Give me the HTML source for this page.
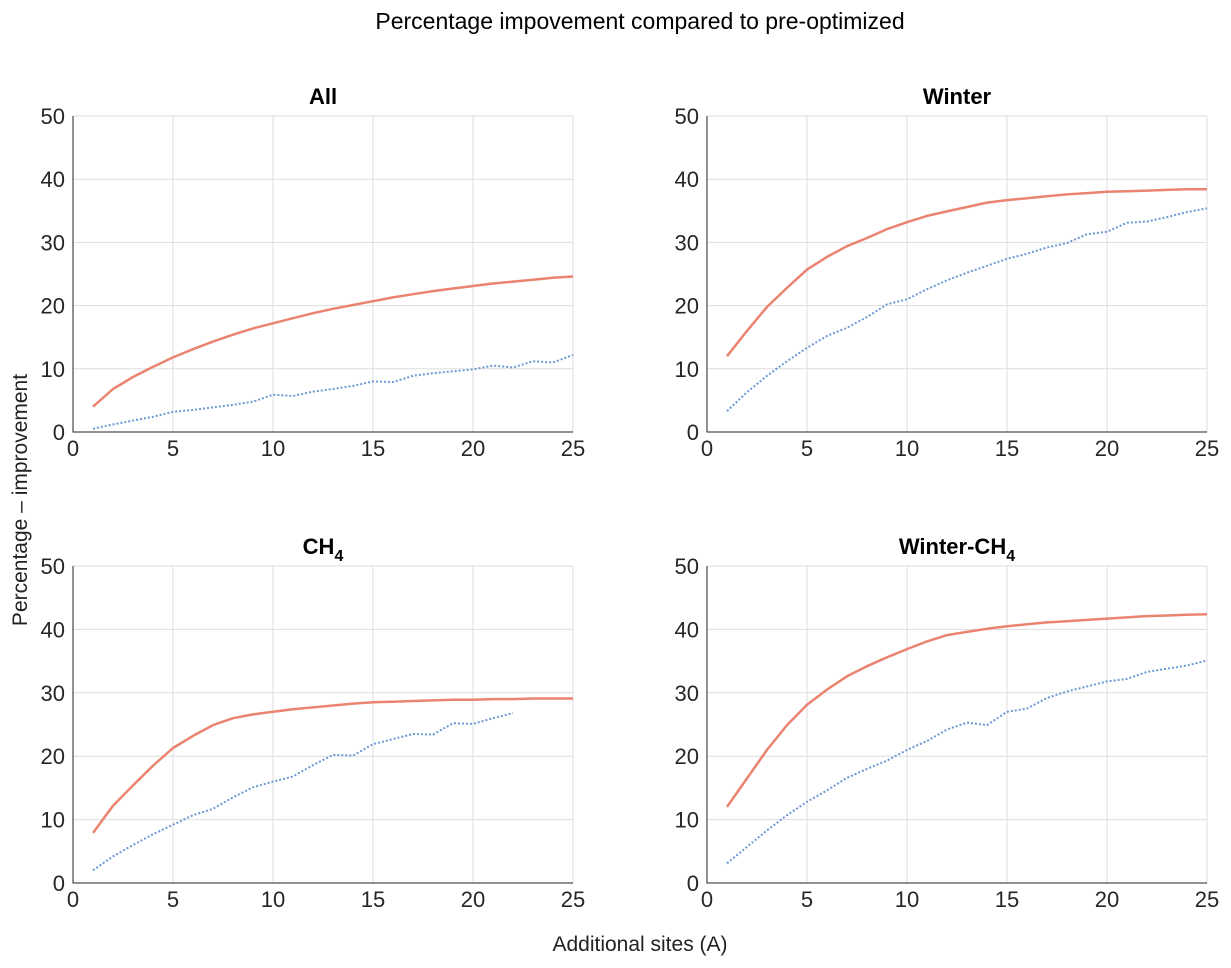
<!DOCTYPE html>
<html><head><meta charset="utf-8">
<style>
html,body{margin:0;padding:0;background:#fff;}
svg{display:block;font-family:"Liberation Sans",Arial,sans-serif;}
</style></head>
<body>
<svg id="chart" width="1231" height="968" viewBox="0 0 1231 968">
<text x="640" y="29" text-anchor="middle" font-size="23" fill="#000">Percentage impovement compared to pre-optimized</text>
<text x="640" y="951" text-anchor="middle" font-size="21" fill="#222">Additional sites (A)</text>
<text transform="translate(27,500) rotate(-90)" text-anchor="middle" font-size="21" fill="#222">Percentage – improvement</text>
</svg>
<script>
const xTicks=[0,5,10,15,20,25];
const yTicks=[0,10,20,30,40,50];
const panelTitles=["All","Winter","CH4","Winter-CH4"];
const allRed=[4,6.8,8.7,10.3,11.8,13.1,14.3,15.4,16.4,17.2,18.0,18.8,19.5,20.1,20.7,21.3,21.8,22.3,22.7,23.1,23.5,23.8,24.1,24.4,24.6];
const allBlue=[0.5,1.2,1.8,2.4,3.2,3.5,3.9,4.3,4.8,5.9,5.7,6.4,6.8,7.3,8,7.9,8.9,9.3,9.6,9.9,10.5,10.2,11.2,11,12.2];
const winterRed=[12,16,19.8,22.8,25.7,27.7,29.4,30.7,32.1,33.2,34.2,34.9,35.6,36.3,36.7,37,37.3,37.6,37.8,38,38.1,38.2,38.3,38.4,38.4];
const winterBlue=[3.3,6.3,8.9,11.2,13.3,15.2,16.5,18.2,20.2,21,22.6,24,25.2,26.3,27.4,28.2,29.2,29.9,31.3,31.7,33.1,33.3,34,34.8,35.4];
const ch4Red=[7.9,12.2,15.4,18.5,21.3,23.2,24.9,26,26.6,27,27.4,27.7,28,28.3,28.5,28.6,28.7,28.8,28.9,28.9,29,29,29.1,29.1,29.1];
const ch4Blue=[2,4.2,6,7.7,9.2,10.7,11.7,13.5,15.1,16,16.8,18.6,20.2,20.1,21.9,22.7,23.5,23.4,25.2,25.1,26,26.8];
const wch4Red=[12,16.5,21,24.9,28.1,30.5,32.6,34.2,35.6,36.9,38.1,39.1,39.6,40.1,40.5,40.8,41.1,41.3,41.5,41.7,41.9,42.1,42.2,42.3,42.4];
const wch4Blue=[3.1,5.7,8.3,10.7,12.8,14.6,16.6,18,19.3,21,22.4,24.2,25.3,24.9,27,27.5,29.2,30.2,31,31.8,32.2,33.3,33.8,34.3,35.1];

const NS="http://www.w3.org/2000/svg";
const svg=document.getElementById('chart');
function mk(tag,attrs,parent){const e=document.createElementNS(NS,tag);for(const k in attrs)e.setAttribute(k,attrs[k]);(parent||svg).appendChild(e);return e;}
const panels=[
 {x0:73,x1:573,y0:432,y1:116,red:allRed,blue:allBlue,name:"all"},
 {x0:707,x1:1207,y0:432,y1:116,red:winterRed,blue:winterBlue,name:"winter"},
 {x0:73,x1:573,y0:883,y1:566,red:ch4Red,blue:ch4Blue,name:"ch4"},
 {x0:707,x1:1207,y0:883,y1:566,red:wch4Red,blue:wch4Blue,name:"winter-ch4"}];
panels.forEach((p,i)=>{
 const g=mk('g',{});
 
 
 const sx=v=>p.x0+(v-0)/25*(p.x1-p.x0);
 const sy=v=>p.y0+(v-0)/50*(p.y1-p.y0);
 xTicks.forEach(t=>{
  const l=mk('line',{x1:sx(t),x2:sx(t),y1:p.y0,y2:p.y1,stroke:'#dedede','stroke-width':1},g);
  
  
  const tx=mk('text',{x:sx(t),y:p.y0+24,'text-anchor':'middle','font-size':22,fill:'#262626'},g);
  tx.textContent=t;
  
  
 });
 yTicks.forEach(t=>{
  const l=mk('line',{x1:p.x0,x2:p.x1,y1:sy(t),y2:sy(t),stroke:'#dedede','stroke-width':1},g);
  
  
  const tx=mk('text',{x:p.x0-8,y:sy(t)+8,'text-anchor':'end','font-size':22,fill:'#262626'},g);
  tx.textContent=t;
  
  
 });
 const ax=mk('path',{d:`M${p.x0},${p.y1}V${p.y0}H${p.x1}`,fill:'none',stroke:'#262626','stroke-width':1},g);
 
 
 const pts=arr=>arr.map((v,k)=>sx(k+1).toFixed(1)+','+sy(v).toFixed(1)).join(' ');
 const r=mk('polyline',{points:pts(p.red),fill:'none',stroke:'#ea8470','stroke-width':2.5,'stroke-linejoin':'round'},g);
 
 
 const b=mk('polyline',{points:pts(p.blue),fill:'none',stroke:'#6c98d6','stroke-width':2,'stroke-dasharray':'2 2'},g);
 
 
 const cx=(p.x0+p.x1)/2;
 const tt=mk('text',{x:cx,y:p.y1-12,'text-anchor':'middle','font-size':22,'font-weight':'bold',fill:'#000'},g);
 
 
 const ttl=panelTitles[i];
 if(ttl.endsWith('CH4')){
  tt.appendChild(document.createTextNode(ttl.slice(0,-1)));
  const s=mk('tspan',{'font-size':16,dy:7},tt);s.textContent='4';
 } else tt.textContent=ttl;
});
</script>
</body></html>
